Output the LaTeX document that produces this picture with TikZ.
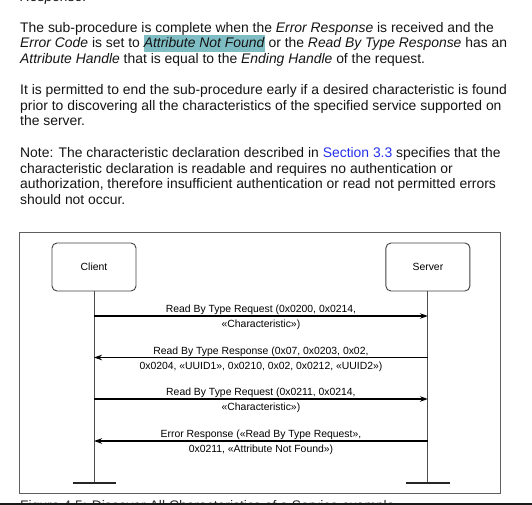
\documentclass[tikz,border=0pt]{standalone}
\usepackage{fontspec}
\setmainfont{Liberation Sans}
\usepackage{xcolor}
\usepackage{tikz}
\usetikzlibrary{arrows.meta, positioning}
\definecolor{hlteal}{RGB}{127,189,196}
\definecolor{linkblue}{RGB}{35,50,235}
\definecolor{framegray}{RGB}{95,95,95}
\tikzstyle{bodyline} = [anchor=base west, inner sep=0pt, font=\fontsize{13.9}{16}\selectfont, text=black!92]
\tikzstyle{actor}    = [rectangle, rounded corners=5pt, minimum width=84pt, minimum height=48pt, text centered, draw=black!75, line width=0.9pt, font=\fontsize{10.4}{12}\selectfont]
\tikzstyle{lifeline} = [line width=0.9pt, draw=black!70]
\tikzstyle{endbar}   = [line width=2.6pt, draw=black!85]
\tikzstyle{msg}      = [line width=1.3pt, -{Stealth[length=8pt, width=5.5pt]}]
\tikzstyle{msglabel} = [midway, align=center, inner sep=0pt, yshift=-1.5pt, font=\fontsize{10.4}{15}\selectfont]
\newcommand{\hilite}[1]{{\setlength{\fboxsep}{0pt}\colorbox{hlteal}{\rule[-4pt]{0pt}{17pt}#1}}}

\begin{document}
\begin{tikzpicture}[x=1pt, y=-1pt]
\useasboundingbox (0,0) rectangle (532,505);
\clip (0,0) rectangle (532,505);
% text round the figure
\node (resp) [bodyline] at (20,1.3) {\textit{Response.}};
\node (p1a) [bodyline] at (20,32.3) {The sub-procedure is complete when the \textit{Error Response} is received and the};
\node (p1b) [bodyline] at (20,48) {\textit{Error Code} is set to \hilite{\textit{Attribute Not Found}} or the \textit{Read By Type Response} has an};
\node (p1c) [bodyline] at (20,63.7) {\textit{Attribute Handle} that is equal to the \textit{Ending Handle} of the request.};
\node (p2a) [bodyline] at (20,94.5) {It is permitted to end the sub-procedure early if a desired characteristic is found};
\node (p2b) [bodyline] at (20,110.2) {prior to discovering all the characteristics of the specified service supported on};
\node (p2c) [bodyline] at (20,125.9) {the server.};
\node (p3a) [bodyline] at (20,157.5) {Note: The characteristic declaration described in \textcolor{linkblue}{Section 3.3} specifies that the};
\node (p3b) [bodyline] at (20,173.2) {characteristic declaration is readable and requires no authentication or};
\node (p3c) [bodyline] at (20,188.9) {authorization, therefore insufficient authentication or read not permitted errors};
\node (p3d) [bodyline] at (20,204.6) {should not occur.};
\node (caption) [bodyline, text=black!80] at (20,510.2) {Figure 4.5: Discover All Characteristics of a Service example};
\fill[black!90] (0,503) rectangle (532,505);

% the figure
\draw[framegray, line width=0.9pt] (19,232) rectangle (500,493);
\node (client) [actor] at (94,267) {Client};
\node (server) [actor, right=249pt of client] {Server};
\coordinate (base) at (0,483);
\coordinate (cend) at (client.south |- base);
\coordinate (send) at (server.south |- base);
\draw[lifeline] (client.south) -- (cend);
\draw[lifeline] (server.south) -- (send);
\draw[endbar] (cend) ++(-21.5,0) -- ++(43,0);
\draw[endbar] (send) ++(-22,0) -- ++(44,0);

\coordinate (m1) at (0,316);
\coordinate (m2) at (0,357.5);
\coordinate (m3) at (0,399);
\coordinate (m4) at (0,441);
\draw[msg] (client.south |- m1) -- (server.south |- m1) node[msglabel] {Read By Type Request (0x0200, 0x0214,\\«Characteristic»)};
\draw[msg] (server.south |- m2) -- (client.south |- m2) node[msglabel] {Read By Type Response (0x07, 0x0203, 0x02,\\0x0204, «UUID1», 0x0210, 0x02, 0x0212, «UUID2»)};
\draw[msg] (client.south |- m3) -- (server.south |- m3) node[msglabel] {Read By Type Request (0x0211, 0x0214,\\«Characteristic»)};
\draw[msg] (server.south |- m4) -- (client.south |- m4) node[msglabel] {Error Response («Read By Type Request»,\\0x0211, «Attribute Not Found»)};
\end{tikzpicture}
\end{document}
